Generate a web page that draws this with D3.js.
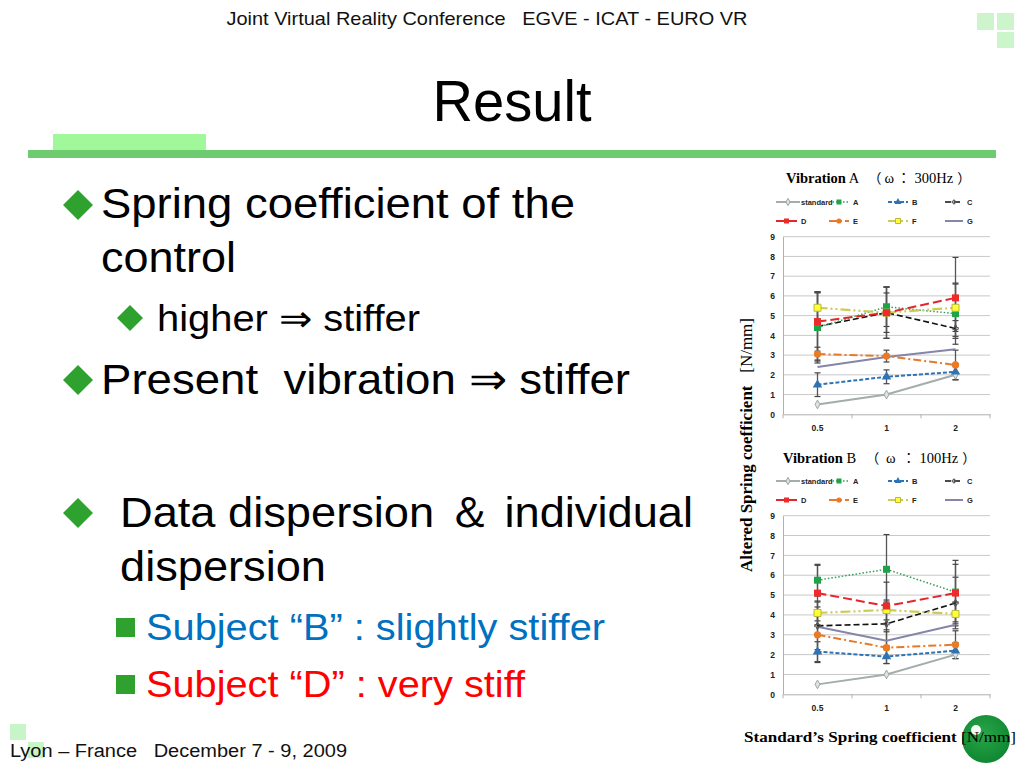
<!DOCTYPE html>
<html><head><meta charset="utf-8">
<script src="https://cdn.jsdelivr.net/npm/d3@7"></script>
<style>html,body{margin:0;padding:0;background:#fff;}svg{display:block;}text{white-space:pre;}</style>
</head><body>
<script>
// ---------- DATA ----------
const categories = ["0.5", "1", "2"];
const seriesNames = ["standard", "A", "B", "C", "D", "E", "F", "G"];
const yTicks = [0, 1, 2, 3, 4, 5, 6, 7, 8, 9];

// Vibration A (300Hz)
const vibA_standard = [0.5, 1, 2];
const vibA_A = [4.4, 5.45, 5.1];
const vibA_B = [1.5, 1.9, 2.15];
const vibA_C = [4.45, 5.15, 4.35];
const vibA_D = [4.7, 5.15, 5.9];
const vibA_E = [3.05, 2.95, 2.5];
const vibA_F = [5.4, 5.15, 5.4];
const vibA_G = [2.4, 2.9, 3.3];
const vibA_errA = [1.8, 1.0, 1.55];
const vibA_errB = [0.6, 0.35, 0.4];
const vibA_errC = [1.7, 1.3, 0.4];
const vibA_errD = [1.5, 1.3, 2.05];
const vibA_errE = [0.35, 0.3, 0.75];
const vibA_errF = [0.8, 1.0, 1.2];

// Vibration B (100Hz)
const vibB_standard = [0.5, 1, 2];
const vibB_A = [5.75, 6.3, 5.15];
const vibB_B = [2.15, 1.9, 2.2];
const vibB_C = [3.45, 3.55, 4.6];
const vibB_D = [5.1, 4.45, 5.1];
const vibB_E = [3.0, 2.35, 2.5];
const vibB_F = [4.1, 4.25, 4.05];
const vibB_G = [3.4, 2.7, 3.5];
const vibB_errA = [0.8, 1.75, 1.6];
const vibB_errB = [0.5, 0.35, 0.4];
const vibB_errC = [1.2, 1.1, 1.3];
const vibB_errD = [1.4, 1.2, 1.45];
const vibB_errE = [1.4, 0.8, 0.7];
const vibB_errF = [0.6, 0.5, 0.6];

// ---------- STYLES ----------
const styles = {
  standard: {color: "#a2adac", dash: null, w: 2, marker: "diamond", fill: "#dfe4e3"},
  A: {color: "#2f9e57", dash: "1.5,2", w: 1.5, marker: "square", fill: "#1fa348"},
  B: {color: "#2e74b5", dash: "4,2", w: 2, marker: "triangle", fill: "#2e74b5"},
  C: {color: "#111111", dash: "6,3", w: 1.6, marker: "plus", fill: "#111"},
  D: {color: "#e3262c", dash: "9,4", w: 2, marker: "square", fill: "#ee2a2a"},
  E: {color: "#e8792a", dash: "8,3,2,3", w: 2, marker: "circle", fill: "#ec7a22"},
  F: {color: "#cccc55", dash: "10,3,2,3,2,3", w: 2.2, marker: "square", fill: "#ffff33"},
  G: {color: "#8585aa", dash: null, w: 2, marker: "none", fill: "none"}
};

const W = 1024, H = 768;
const svg = d3.select("body").append("svg").attr("width", W).attr("height", H);
const sans = "'Liberation Sans', Arial, sans-serif";
const serif = "'Liberation Serif', 'Times New Roman', serif";
const cjk = "'Noto Sans CJK JP', 'Noto Sans CJK SC', sans-serif";

// ---------- SLIDE DECOR ----------
svg.append("text").attr("x", 487).attr("y", 25).attr("text-anchor", "middle")
  .attr("font-family", sans).attr("font-size", 19).attr("fill", "#111")
  .attr("textLength", 521).attr("lengthAdjust", "spacingAndGlyphs")
  .text("Joint Virtual Reality Conference   EGVE - ICAT - EURO VR");
[[977, 13, 17, 17], [997, 13, 17, 17], [997, 32, 17, 16]].forEach(r =>
  svg.append("rect").attr("x", r[0]).attr("y", r[1]).attr("width", r[2]).attr("height", r[3]).attr("fill", "#ccf5cc"));
svg.append("text").attr("x", 512).attr("y", 121).attr("text-anchor", "middle")
  .attr("font-family", sans).attr("font-size", 58).attr("fill", "#000")
  .attr("textLength", 159).attr("lengthAdjust", "spacingAndGlyphs").text("Result");
svg.append("rect").attr("x", 53).attr("y", 134).attr("width", 153).attr("height", 16).attr("fill", "#a0f89a");
svg.append("rect").attr("x", 28).attr("y", 150).attr("width", 968).attr("height", 8).attr("fill", "#6fcb6f");

// bottom-left squares & footer
svg.append("rect").attr("x", 10).attr("y", 724).attr("width", 16).attr("height", 16).attr("fill", "#c8f5c8");
svg.append("rect").attr("x", 28).attr("y", 742).attr("width", 16).attr("height", 16).attr("fill", "#c8f5c8");
svg.append("text").attr("x", 10).attr("y", 757).attr("font-family", sans).attr("font-size", 18).attr("fill", "#111")
  .attr("textLength", 337).attr("lengthAdjust", "spacingAndGlyphs")
  .text("Lyon \u2013 France   December 7 - 9, 2009");

// ---------- LEFT TEXT ----------
const green = "#2ea12e";
function diamond(cx, cy, r) {
  svg.append("path").attr("d", `M${cx},${cy - r}L${cx + r},${cy}L${cx},${cy + r}L${cx - r},${cy}Z`).attr("fill", green);
}
function line(x, y, txt, size, len, color) {
  svg.append("text").attr("x", x).attr("y", y).attr("font-family", sans).attr("font-size", size)
    .attr("fill", color || "#000").attr("textLength", len).attr("lengthAdjust", "spacingAndGlyphs").text(txt);
}
diamond(78, 205, 15);
line(101, 218, "Spring coefficient of the", 43, 474);
line(101, 272, "control", 43, 135);
diamond(130, 318, 13);
line(157, 331, "higher \u21d2 stiffer", 36, 263);
diamond(78, 380, 15);
line(101, 394, "Present  vibration \u21d2 stiffer", 43, 529);
diamond(78, 513, 15);
line(120, 527, "Data dispersion \uff06 individual", 43, 573);
line(120, 581, "dispersion", 43, 206);
svg.append("rect").attr("x", 116).attr("y", 618).attr("width", 19).attr("height", 19).attr("fill", green);
line(146, 640, "Subject \u201cB\u201d : slightly stiffer", 36, 459, "#0070c0");
svg.append("rect").attr("x", 116).attr("y", 675).attr("width", 19).attr("height", 19).attr("fill", green);
line(146, 697, "Subject \u201cD\u201d : very stiff", 36, 379, "#ff0000");

// ---------- CHARTS ----------
function markerPath(type, s) {
  switch (type) {
    case "square": return d3.symbol(d3.symbolSquare, s * s)();
    case "diamond": return d3.symbol(d3.symbolDiamond, s * s * 0.6)();
    case "triangle": return d3.symbol(d3.symbolTriangle, s * s * 0.8)();
    case "circle": return d3.symbol(d3.symbolCircle, s * s * 0.85)();
    case "plus": return d3.symbol(d3.symbolCross, s * s * 0.35)();
    default: return null;
  }
}
function drawMarker(g, name, x, y, size) {
  const st = styles[name];
  const p = markerPath(st.marker, size);
  if (!p) return;
  g.append("path").attr("d", p).attr("transform", `translate(${x},${y})`)
    .attr("fill", st.marker === "plus" ? "none" : st.fill)
    .attr("stroke", name === "F" ? "#b8b840" : (name === "standard" ? "#9aa5a4" : (st.marker === "plus" ? "#555" : "none")))
    .attr("stroke-width", 1);
}

function drawChart(cfg) {
  const g = svg.append("g");
  const x = d3.scaleBand().domain(categories).range([783, 990]);
  const y = d3.scaleLinear().domain([0, 9]).range([cfg.y0, cfg.y9]);

  // title
  const t = g.append("text").attr("x", cfg.titleX).attr("y", cfg.titleY).attr("font-family", serif)
    .attr("font-size", 14.5).attr("fill", "#000");
  cfg.titleParts.forEach(([txt, fam, bold, dx]) => {
    t.append("tspan").attr("font-family", fam).attr("font-weight", bold ? "bold" : "normal")
      .attr("dx", dx || 0)
      .attr("font-size", fam === cjk ? 13.5 : 14.5).text(txt);
  });

  // legend
  const legX = [[776, 801], [829, 853], [888, 912], [945, 967]];
  seriesNames.forEach((n, i) => {
    const row = Math.floor(i / 4), col = i % 4;
    const ly = cfg.legY + row * 19;
    const x0 = legX[col][0], x1 = (i === 0) ? 800 : legX[col][1] - 4;
    const st = styles[n];
    g.append("line").attr("x1", x0).attr("x2", x1).attr("y1", ly).attr("y2", ly)
      .attr("stroke", st.color).attr("stroke-width", st.w).attr("stroke-dasharray", st.dash);
    drawMarker(g, n, (x0 + x1) / 2, ly, 5);
    g.append("text").attr("x", i === 0 ? 801 : legX[col][1]).attr("y", ly + 2.5)
      .attr("font-family", sans).attr("font-size", 7.5).attr("font-weight", "bold").attr("fill", "#222").text(n);
  });

  // grid
  g.append("g").selectAll("line").data(yTicks.slice(1)).join("line")
    .attr("x1", 783).attr("x2", 990).attr("y1", d => y(d)).attr("y2", d => y(d))
    .attr("stroke", "#c8c8c8").attr("stroke-width", 1);

  // axes
  const ya = g.append("g").attr("transform", "translate(783,0)")
    .call(d3.axisLeft(y).tickValues(yTicks).tickSize(0).tickPadding(8));
  ya.select(".domain").attr("stroke", "#b0b0b0");
  ya.selectAll("text").attr("font-family", sans).attr("font-size", 8.5).attr("font-weight", "bold").attr("fill", "#222");
  const xa = g.append("g").attr("transform", `translate(0,${cfg.y0})`)
    .call(d3.axisBottom(x).tickSize(0).tickPadding(11));
  xa.select(".domain").attr("stroke", "#b0b0b0");
  xa.selectAll("text").attr("font-family", sans).attr("font-size", 8.5).attr("font-weight", "bold").attr("fill", "#222");
  // category boundary ticks
  g.append("g").selectAll("line").data([0, 1, 2, 3]).join("line")
    .attr("x1", d => 783 + d * x.bandwidth()).attr("x2", d => 783 + d * x.bandwidth())
    .attr("y1", cfg.y0).attr("y2", cfg.y0 + 4).attr("stroke", "#b0b0b0");

  const cx = c => x(c) + x.bandwidth() / 2;

  // error bars
  cfg.errs.forEach(([vals, errs]) => {
    categories.forEach((c, i) => {
      const lo = y(vals[i] - errs[i]), hi = y(vals[i] + errs[i]);
      g.append("line").attr("x1", cx(c)).attr("x2", cx(c)).attr("y1", lo).attr("y2", hi)
        .attr("stroke", "#555").attr("stroke-width", 1.3);
      [lo, hi].forEach(yy => g.append("line").attr("x1", cx(c) - 3).attr("x2", cx(c) + 3)
        .attr("y1", yy).attr("y2", yy).attr("stroke", "#444").attr("stroke-width", 1.2));
    });
  });

  // lines (draw G and standard first)
  const order = ["G", "standard", "B", "E", "C", "A", "F", "D"];
  const lineGen = d3.line().x((d, i) => cx(categories[i])).y(d => y(d));
  order.forEach(n => {
    const st = styles[n];
    g.append("path").attr("d", lineGen(cfg.series[n])).attr("fill", "none")
      .attr("stroke", st.color).attr("stroke-width", st.w).attr("stroke-dasharray", st.dash);
  });
  order.forEach(n => {
    cfg.series[n].forEach((v, i) => drawMarker(g, n, cx(categories[i]), y(v), n === "standard" ? 6 : 7));
  });
}

drawChart({
  y0: 414.3, y9: 236.7, titleX: 786, titleY: 183, legY: 202,
  titleParts: [["Vibration", serif, true], [" A ", serif, false], ["\uff08", cjk, false, 6], ["\u03c9", serif, false, 3],
               ["\uff1a", cjk, false, 3], ["300Hz", serif, false, 4], ["\uff09", cjk, false, 4]],
  series: {standard: vibA_standard, A: vibA_A, B: vibA_B, C: vibA_C, D: vibA_D, E: vibA_E, F: vibA_F, G: vibA_G},
  errs: [[vibA_A, vibA_errA], [vibA_B, vibA_errB], [vibA_C, vibA_errC], [vibA_D, vibA_errD], [vibA_E, vibA_errE], [vibA_F, vibA_errF]]
});
drawChart({
  y0: 694.3, y9: 515.7, titleX: 783, titleY: 463, legY: 481,
  titleParts: [["Vibration", serif, true], [" B ", serif, false], ["\uff08", cjk, false, 6], [" \u03c9 ", serif, false, 3],
               ["\uff1a", cjk, false, 3], ["100Hz", serif, false, 4], ["\uff09", cjk, false, 4]],
  series: {standard: vibB_standard, A: vibB_A, B: vibB_B, C: vibB_C, D: vibB_D, E: vibB_E, F: vibB_F, G: vibB_G},
  errs: [[vibB_A, vibB_errA], [vibB_B, vibB_errB], [vibB_C, vibB_errC], [vibB_D, vibB_errD], [vibB_E, vibB_errE], [vibB_F, vibB_errF]]
});

// y label (rotated)
const yl = svg.append("text").attr("transform", "translate(752,445) rotate(-90)").attr("text-anchor", "middle")
  .attr("font-family", serif).attr("font-size", 16.5).attr("fill", "#000")
  .attr("textLength", 254).attr("lengthAdjust", "spacingAndGlyphs");
yl.append("tspan").attr("font-weight", "bold").text("Altered Spring coefficient");
yl.append("tspan").text("   [N/mm]");

// bottom-right circle
const defs = svg.append("defs");
const rg = defs.append("radialGradient").attr("id", "gc").attr("cx", "45%").attr("cy", "40%").attr("r", "65%");
rg.append("stop").attr("offset", "0%").attr("stop-color", "#2aa548");
rg.append("stop").attr("offset", "100%").attr("stop-color", "#0d8530");
svg.append("circle").attr("cx", 986).attr("cy", 739).attr("r", 24).attr("fill", "url(#gc)");
svg.append("circle").attr("cx", 976).attr("cy", 730).attr("r", 5).attr("fill", "#ffffff").attr("opacity", 0.95);

// x label
const xl = svg.append("text").attr("x", 744).attr("y", 742).attr("font-family", serif).attr("font-size", 15.5).attr("fill", "#000")
  .attr("textLength", 272).attr("lengthAdjust", "spacingAndGlyphs");
xl.append("tspan").attr("font-weight", "bold").text("Standard\u2019s Spring coefficient ");
xl.append("tspan").text("[N/mm]");
</script>
</body></html>
